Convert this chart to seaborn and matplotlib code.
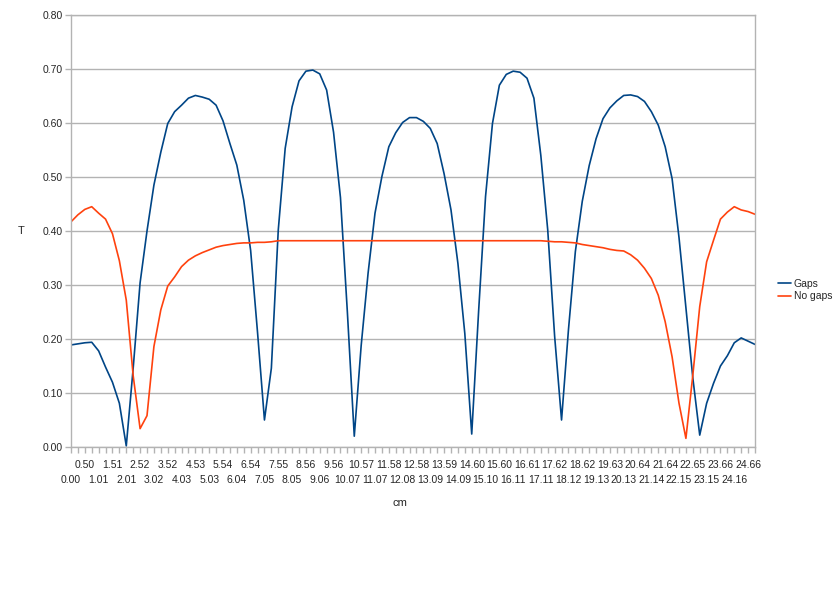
import pandas as pd
import seaborn as sns
import matplotlib.pyplot as plt
from matplotlib.ticker import FixedLocator, FixedFormatter

# category labels shown on the x axis (every second category)
cm_labels = ["0.00", "0.50", "1.01", "1.51", "2.01", "2.52", "3.02", "3.52", "4.03", "4.53",
             "5.03", "5.54", "6.04", "6.54", "7.05", "7.55", "8.05", "8.56", "9.06", "9.56",
             "10.07", "10.57", "11.07", "11.58", "12.08", "12.58", "13.09", "13.59", "14.09", "14.60",
             "15.10", "15.60", "16.11", "16.61", "17.11", "17.62", "18.12", "18.62", "19.13", "19.63",
             "20.13", "20.64", "21.14", "21.64", "22.15", "22.65", "23.15", "23.66", "24.16", "24.66"]

gaps = [0.189, 0.191, 0.193, 0.194, 0.178, 0.148, 0.120, 0.081, 0.002, 0.146,
        0.304, 0.400, 0.485, 0.546, 0.599, 0.621, 0.633, 0.646, 0.651, 0.648,
        0.644, 0.633, 0.604, 0.562, 0.522, 0.457, 0.364, 0.212, 0.050, 0.146,
        0.402, 0.553, 0.630, 0.678, 0.696, 0.698, 0.691, 0.661, 0.583, 0.462,
        0.250, 0.020, 0.188, 0.322, 0.433, 0.501, 0.556, 0.582, 0.601, 0.610,
        0.610, 0.603, 0.590, 0.562, 0.506, 0.439, 0.340, 0.210, 0.024, 0.252,
        0.464, 0.599, 0.670, 0.690, 0.696, 0.694, 0.683, 0.646, 0.540, 0.402,
        0.205, 0.050, 0.217, 0.362, 0.455, 0.521, 0.571, 0.608, 0.628, 0.641,
        0.651, 0.652, 0.649, 0.640, 0.621, 0.596, 0.556, 0.497, 0.388, 0.258,
        0.128, 0.022, 0.081, 0.118, 0.150, 0.169, 0.193, 0.202, 0.196, 0.190]

no_gaps = [0.417, 0.430, 0.440, 0.445, 0.433, 0.422, 0.395, 0.345, 0.272, 0.132,
           0.034, 0.058, 0.186, 0.254, 0.298, 0.315, 0.334, 0.346, 0.354, 0.360,
           0.365, 0.370, 0.373, 0.375, 0.377, 0.378, 0.378, 0.379, 0.379, 0.380,
           0.382, 0.382, 0.382, 0.382, 0.382, 0.382, 0.382, 0.382, 0.382, 0.382,
           0.382, 0.382, 0.382, 0.382, 0.382, 0.382, 0.382, 0.382, 0.382, 0.382,
           0.382, 0.382, 0.382, 0.382, 0.382, 0.382, 0.382, 0.382, 0.382, 0.382,
           0.382, 0.382, 0.382, 0.382, 0.382, 0.382, 0.382, 0.382, 0.382, 0.381,
           0.380, 0.380, 0.379, 0.378, 0.375, 0.373, 0.371, 0.369, 0.366, 0.364,
           0.363, 0.356, 0.346, 0.331, 0.312, 0.281, 0.232, 0.167, 0.081, 0.016,
           0.133, 0.260, 0.343, 0.383, 0.422, 0.435, 0.445, 0.439, 0.436, 0.431]

series_names = ["Gaps", "No gaps"]
colors = ["#004586", "#ff420e"]

n = len(gaps)
df = pd.DataFrame({
    "idx": list(range(n)) * 2,
    "T": gaps + no_gaps,
    "series": [series_names[0]] * n + [series_names[1]] * n,
})

sns.set_theme(style="white")
plt.rcParams['font.family'] = ['Liberation Sans', 'DejaVu Sans']

fig = plt.figure(figsize=(8.33, 6.0), dpi=100)
ax = fig.add_axes([71 / 833, 1 - 447 / 600, 684 / 833, 432 / 600])

sns.lineplot(data=df, x="idx", y="T", hue="series", palette=colors, linewidth=1.2, ax=ax)

grid_c = "#b3b3b3"
ax.set_xlim(0, n - 1)
ax.set_ylim(0, 0.8)
ax.set_yticks([i / 10 for i in range(9)])
ax.set_yticklabels([f"{i / 10:.2f}" for i in range(9)])
ax.yaxis.grid(True, color=grid_c, linewidth=1)
ax.xaxis.grid(False)
for s in ax.spines.values():
    s.set_color(grid_c)
    s.set_linewidth(1)

# staggered category labels: lower row on major ticks, upper row on minor ticks
label_pos = list(range(0, n, 2))
lower_pos = label_pos[0::2]
lower_lab = cm_labels[0::2]
minor_pos = [i for i in range(n) if i % 4 != 0]
minor_lab = [cm_labels[label_pos.index(i)] if i in label_pos else "" for i in minor_pos]
ax.xaxis.set_major_locator(FixedLocator(lower_pos))
ax.xaxis.set_major_formatter(FixedFormatter(lower_lab))
ax.xaxis.set_minor_locator(FixedLocator(minor_pos))
ax.xaxis.set_minor_formatter(FixedFormatter(minor_lab))
ax.tick_params(axis="x", which="major", direction="out", length=4, width=1, color=grid_c,
               pad=16.5, labelsize=7.5, bottom=True)
ax.tick_params(axis="x", which="minor", direction="out", length=4, width=1, color=grid_c,
               pad=5.5, labelsize=7.5, bottom=True)
ax.tick_params(axis="y", direction="out", length=4, width=1, color=grid_c, pad=2,
               labelsize=7.5, left=True)

ax.set_xlabel("cm", fontsize=8)
ax.set_ylabel("T", fontsize=8, rotation=0)
ax.xaxis.set_label_coords(329 / 684, -56 / 432)
ax.yaxis.set_label_coords(-50 / 684, 216 / 432)
ax.xaxis.label.set_va("center")
ax.yaxis.label.set_va("center")

ax.legend(title=None, frameon=False, loc="center left", bbox_to_anchor=(707 / 684, 157 / 432),
          fontsize=7.5, handlelength=1.2, handletextpad=0.3, labelspacing=0.25,
          borderpad=0, borderaxespad=0)

fig.savefig("out.png", dpi=100)
